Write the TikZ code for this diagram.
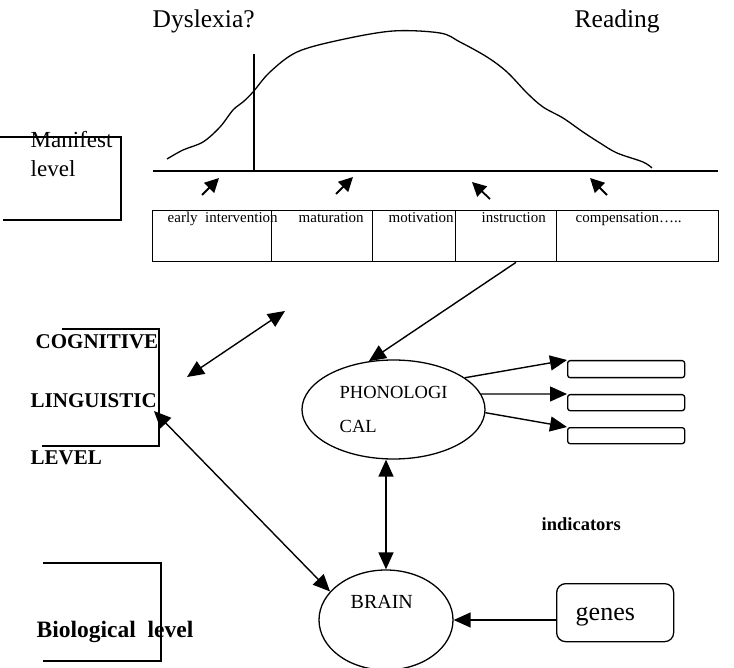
\documentclass[tikz,border=0pt]{standalone}
\usepackage{fontspec}
\setmainfont{Liberation Serif}
\usetikzlibrary{arrows.meta,shapes.geometric,calc}
\begin{document}
\begin{tikzpicture}[x=1pt,y=-1pt,line width=1.4pt,
  txt/.style={inner sep=0pt,anchor=base west},
  bigtxt/.style={txt,font=\fontsize{25.5}{30}\selectfont},
  midtxt/.style={txt,font=\fontsize{23}{26}\selectfont},
  smalltxt/.style={txt,font=\fontsize{15}{18}\selectfont},
  boldtxt/.style={txt,font=\fontsize{21}{24}\selectfont\bfseries},
  celltxt/.style={draw,inner sep=0pt,anchor=north west,minimum height=51pt},
  indbox/.style={draw,rounded corners=2.5pt,inner sep=0pt,anchor=north west,minimum width=117pt,line width=1.3pt},
  bigarr/.style={-{Triangle[length=17pt,width=15pt]}},
  bigdarr/.style={{Triangle[length=17pt,width=15pt]}-{Triangle[length=17pt,width=15pt]}},
  smallarr/.style={-{Triangle[length=14pt,width=14pt]},line width=1.8pt},
]
\useasboundingbox (0,0) rectangle (734,668);

% top texts
\node[bigtxt] (dys) at (152,28) {Dyslexia?};
\node[bigtxt] (rdg) at (574,28) {Reading};

% curve and axes
\draw[line width=1.3pt] plot[smooth,tension=0.55] coordinates {(167,159) (183,150) (203,142) (220,127) (233,110) (243,102) (253,92) (270,72) (297,52) (340,40) (393,31) (440,33) (460,42) (487,57) (507,72) (527,93) (543,107) (563,118) (583,132) (600,143) (617,153) (643,162) (652,168)};
\draw[line width=1.7pt] (153,171) -- (718,171);
\draw[line width=1.3pt] (254,54) -- (254,171);

% small arrows
\coordinate (s1a) at (202,195); \coordinate (s1b) at (219,178);
\coordinate (s2a) at (336,194); \coordinate (s2b) at (353,177);
\coordinate (s3a) at (490,199); \coordinate (s3b) at (472,182);
\coordinate (s4a) at (607,195); \coordinate (s4b) at (590,178);
\draw[smallarr] (s1a) -- (s1b);
\draw[smallarr] (s2a) -- (s2b);
\draw[smallarr] (s3a) -- (s3b);
\draw[smallarr] (s4a) -- (s4b);

% manifest bracket
\draw (0,137) -| (121,220) -- (3,220);
\node[midtxt] (man) at (30,148) {Manifest};
\node[midtxt] (lev) at (30,177) {level};

% interventions row
\node[celltxt,minimum width=118.6pt] (c1) at (152,210) {};
\node[celltxt,minimum width=101.1pt] (c2) at (270.6,210) {};
\node[celltxt,minimum width=83.3pt] (c3) at (371.7,210) {};
\node[celltxt,minimum width=101pt] (c4) at (455,210) {};
\node[celltxt,minimum width=162pt] (c5) at (556,210) {};
\node[smalltxt] (t1) at (167,223) {early\ \ intervention};
\node[smalltxt] (t2) at (298,223) {maturation};
\node[smalltxt] (t3) at (388,223) {motivation};
\node[smalltxt] (t4) at (481,223) {instruction};
\node[smalltxt] (t5) at (575,223) {compensation…..};

% cognitive linguistic bracket
\draw (62,329) -| (159,446) -- (42,446);
\node[boldtxt] (cog) at (35,349) {COGNITIVE};
\node[boldtxt] (lin) at (30,407) {LINGUISTIC};
\node[boldtxt] (lvl) at (30,464) {LEVEL};

% double arrow upper left
\coordinate (da1) at (187,377); \coordinate (da2) at (285,311);
\draw[bigdarr] (da1) -- (da2);

% phonological ellipse
\node[draw,ellipse,inner sep=0pt,minimum width=183pt,minimum height=99pt,line width=1.3pt] (phon) at (393.5,409.5) {};
\node[txt,font=\fontsize{18.5}{22}\selectfont] (ph1) at (339,399) {PHONOLOGI};
\node[txt,font=\fontsize{18.5}{22}\selectfont] (ph2) at (339,432) {CAL};

% instruction -> phon
\coordinate (ins) at ($(c4.south west)!0.595!(c4.south east)$);
\draw[bigarr] (ins) -- (phon.117);

% indicator boxes
\node[indbox,minimum height=17pt] (b1) at (567,360) {};
\node[indbox,minimum height=16pt] (b2) at (567,394) {};
\node[indbox,minimum height=16pt] (b3) at (567,427) {};
\draw[bigarr] (phon.24) -- (b1.north west);
\draw[bigarr] (phon.10) -- (b2.north west);
\draw[bigarr] (phon.-2) -- (b3.north west);
\node[txt,font=\fontsize{18.5}{22}\selectfont\bfseries] (ind) at (541,530) {indicators};

% brain
\node[draw,ellipse,inner sep=0pt,minimum width=134pt,minimum height=100pt,line width=1.3pt] (brain) at (386,620) {};
\node[txt,font=\fontsize{20}{24}\selectfont] (brt) at (350,608) {BRAIN};
\draw[bigdarr] (brain.north |- phon.south) -- (brain.north);
\coordinate (lng) at (154,411);
\draw[bigdarr] (lng) -- (brain.153);

% genes
\node[draw,rounded corners=9pt,inner sep=0pt,anchor=north west,minimum width=117pt,minimum height=58pt,line width=1.3pt] (genes) at (556,583) {};
\node[txt,font=\fontsize{26}{30}\selectfont] (gt) at (575,620) {genes};
\draw[bigarr] (genes.west |- brain.east) -- (brain.east);

% biological bracket
\draw (43,563) -| (161,661) -- (43,661);
\node[txt,font=\fontsize{23.5}{26}\selectfont\bfseries] (bio) at (36,637) {Biological\ \ level};
\end{tikzpicture}
\end{document}
